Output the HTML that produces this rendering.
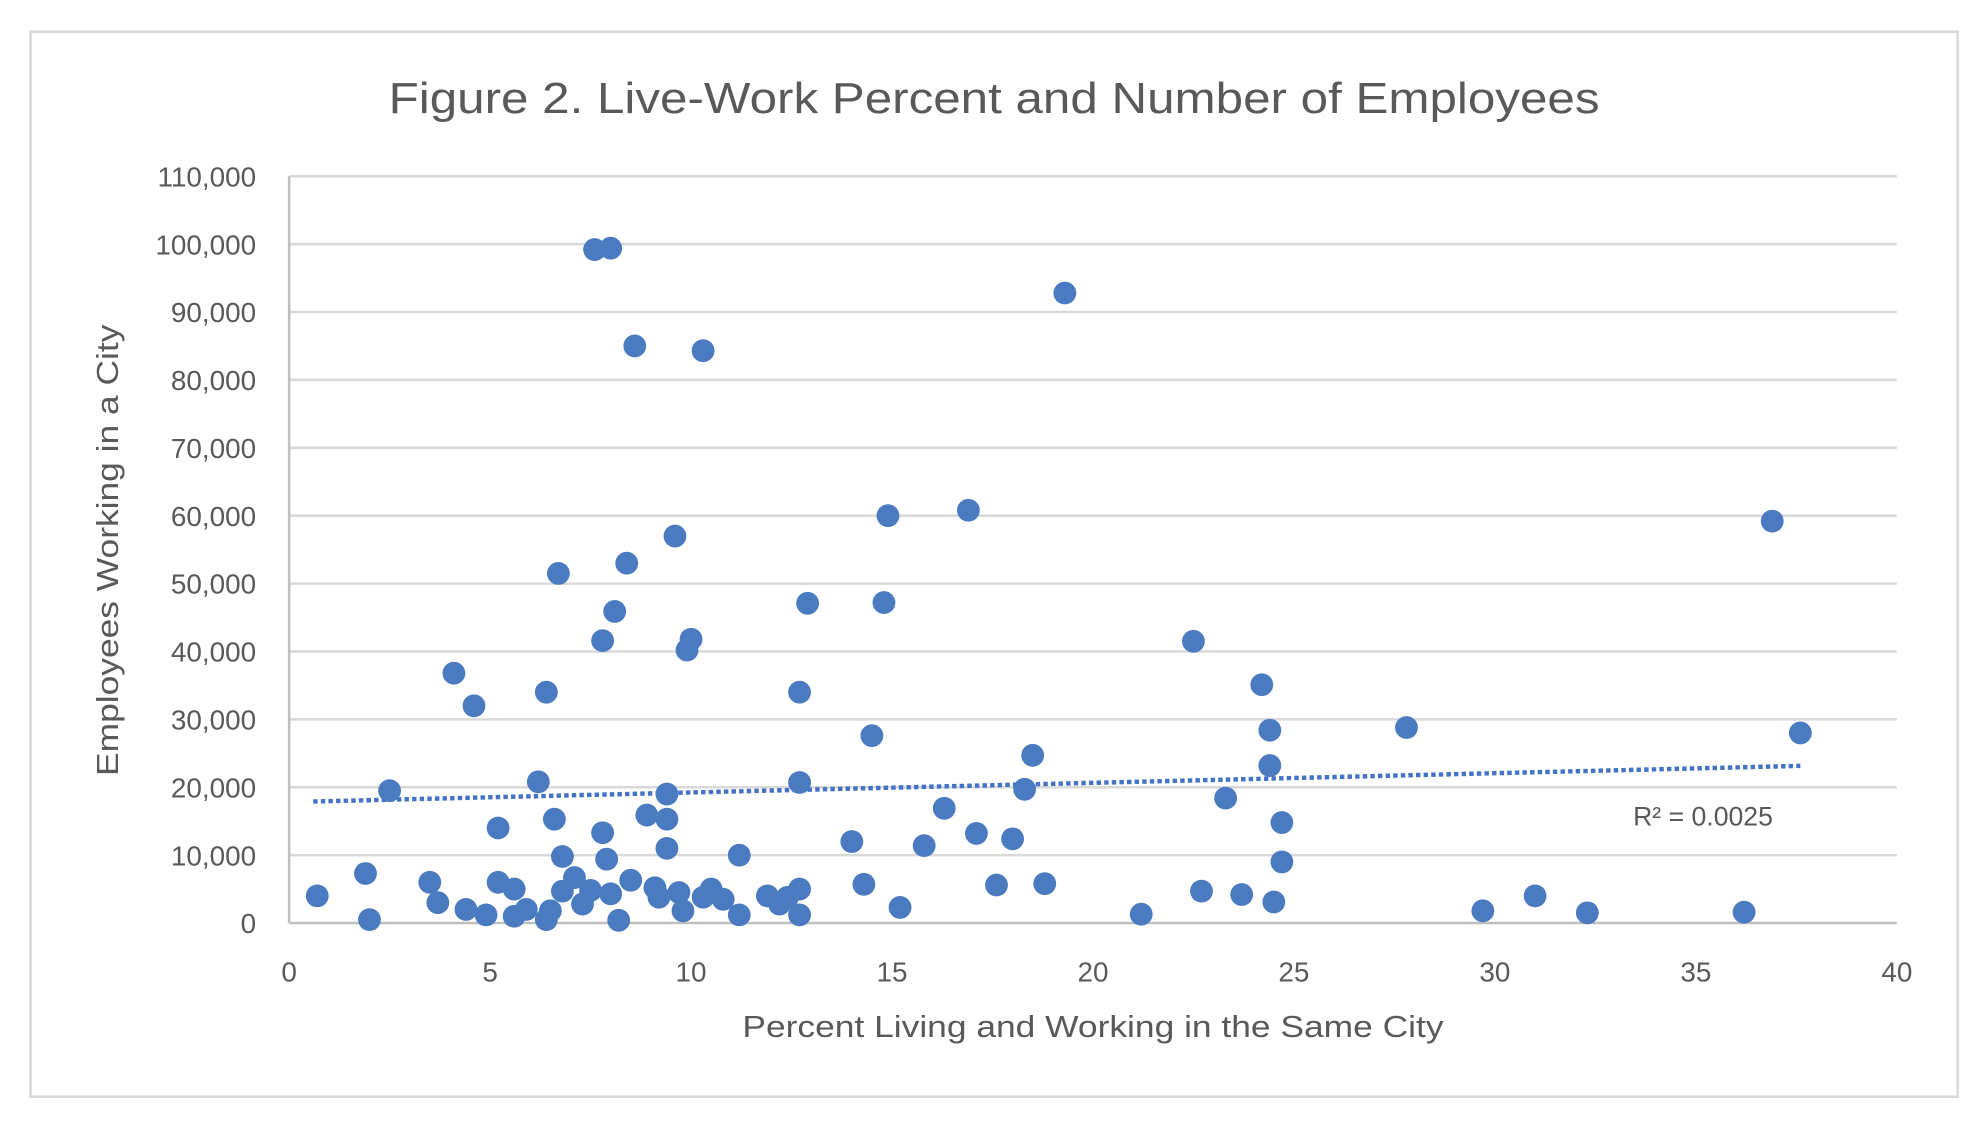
<!DOCTYPE html>
<html><head><meta charset="utf-8"><style>
html,body{margin:0;padding:0;background:#fff;}
svg{display:block;font-family:"Liberation Sans",sans-serif;}
</style></head><body>
<svg id="chart" width="1978" height="1124" viewBox="0 0 1560 886.5" xmlns="http://www.w3.org/2000/svg">
<rect x="24" y="25" width="1520" height="840" fill="#fff" stroke="#d9d9d9" stroke-width="2"/>
<text x="784" y="89" text-anchor="middle" font-size="34" fill="#595959" textLength="955" lengthAdjust="spacingAndGlyphs">Figure 2. Live-Work Percent and Number of Employees</text>
<g id="grid"></g><g id="axes"></g><g id="trend"></g><g id="pts"></g>
<text x="862" y="818" text-anchor="middle" font-size="24" fill="#595959" textLength="553" lengthAdjust="spacingAndGlyphs">Percent Living and Working in the Same City</text>
<text transform="translate(93,434) rotate(-90)" text-anchor="middle" font-size="24" fill="#595959" textLength="356" lengthAdjust="spacingAndGlyphs">Employees Working in a City</text>
<text x="1288" y="651" font-size="21" fill="#595959">R² = 0.0025</text>
</svg>
<script>
const xTicks=[0,5,10,15,20,25,30,35,40];
const yTicks=[0,10000,20000,30000,40000,50000,60000,70000,80000,90000,100000,110000];
const xVals=[0.7,1.9,2.0,2.5,3.5,3.7,4.1,4.4,4.6,4.9,5.2,5.2,5.6,5.6,5.9,6.2,6.4,6.4,6.5,6.6,6.7,6.8,6.8,7.1,7.3,7.5,7.6,7.8,7.8,7.9,8.0,8.0,8.1,8.2,8.4,8.5,8.6,8.9,9.1,9.2,9.4,9.4,9.4,9.6,9.7,9.8,9.9,10.0,10.3,10.3,10.5,10.8,11.2,11.2,11.9,12.2,12.4,12.7,12.7,12.7,12.7,12.9,14.0,14.3,14.5,14.8,14.9,15.2,15.8,16.3,16.9,17.1,17.6,18.0,18.3,18.5,18.8,19.3,21.2,22.5,22.7,23.3,23.7,24.2,24.4,24.4,24.5,24.7,24.7,27.8,29.7,31.0,32.3,36.2,36.9,37.6];
const yVals=[4000,7300,500,19500,6000,3000,36800,2000,32000,1200,14000,6000,5000,1000,2000,20800,34000,500,1800,15300,51500,9800,4700,6700,2800,4800,99200,41600,13300,9400,99400,4300,45900,400,53000,6300,85000,15900,5200,3800,19000,15300,11000,57000,4500,1800,40200,41800,84300,3800,5000,3500,10000,1200,4000,2800,3800,34000,20700,5000,1200,47100,12000,5700,27600,47200,60000,2300,11400,16900,60800,13200,5600,12400,19700,24700,5800,92800,1300,41500,4700,18400,4200,35100,28400,23200,3100,14800,9000,28800,1800,4000,1500,1600,59200,28000];
const trendX=[0.6,37.6];
const trendY=[17900,23150];
const NS='http://www.w3.org/2000/svg';
const X=v=>228+v*(1496-228)/40;
const Y=v=>728-v*(728-139)/110000;
function mk(tag,attrs,parent){const e=document.createElementNS(NS,tag);for(const k in attrs)e.setAttribute(k,attrs[k]);document.getElementById(parent).appendChild(e);return e;}
const fmt=n=>n.toLocaleString('en-US');
yTicks.forEach(t=>{
  if(t>0){const g=mk('line',{x1:228,x2:1496,y1:Y(t),y2:Y(t),stroke:'#d9d9d9','stroke-width':2},'grid');
  
  }
  const l=mk('text',{x:202,y:Y(t)+8,'text-anchor':'end','font-size':22,fill:'#595959'},'axes');
  l.textContent=fmt(t);
  
  
});
const xa=mk('line',{x1:228,x2:1496,y1:Y(0),y2:Y(0),stroke:'#bfbfbf','stroke-width':2},'axes');


const ya=mk('line',{x1:228,x2:228,y1:Y(0),y2:Y(110000),stroke:'#bfbfbf','stroke-width':2},'axes');


xTicks.forEach(t=>{
  const l=mk('text',{x:X(t),y:774,'text-anchor':'middle','font-size':22,fill:'#595959'},'axes');
  l.textContent=t;
  
  
});
const tl=mk('line',{x1:X(trendX[0]),y1:Y(trendY[0]),x2:X(trendX[1]),y2:Y(trendY[1]),stroke:'#4472c4','stroke-width':3.5,'stroke-dasharray':'3.5 2.5'},'trend');


xVals.forEach((v,i)=>{
  const c=mk('circle',{cx:X(v),cy:Y(yVals[i]),r:9,fill:'#4a7bc0'},'pts');
  
  
});
</script>
</body></html>
